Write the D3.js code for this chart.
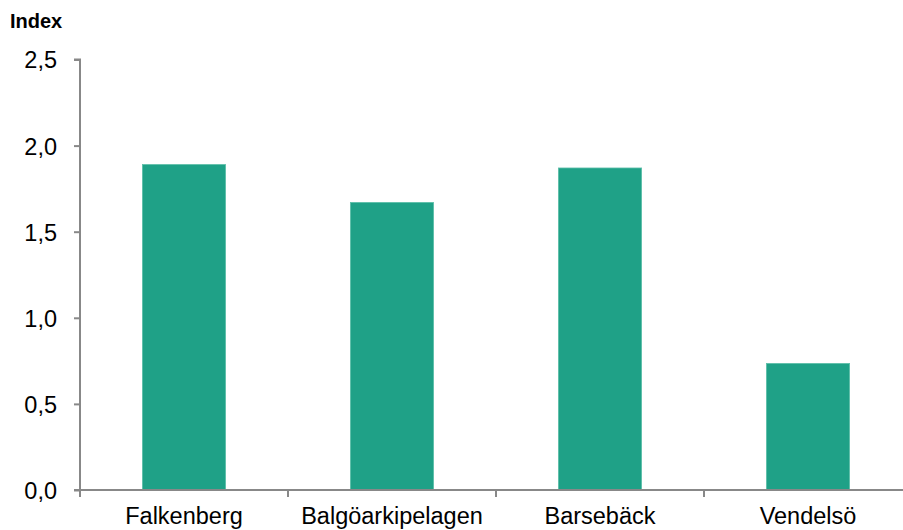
<!DOCTYPE html>
<html>
<head>
<meta charset="utf-8">
<script src="https://cdn.jsdelivr.net/npm/d3@7"></script>
<style>
  html, body { margin: 0; padding: 0; background: #fff; }
  svg { display: block; font-family: "Liberation Sans", Arial, sans-serif; }
</style>
</head>
<body>
<svg id="chart" width="903" height="530"></svg>
<script>
const categories = ["Falkenberg", "Balgöarkipelagen", "Barsebäck", "Vendelsö"];
const values = [1.89, 1.67, 1.87, 0.735];
const yTicks = [0, 0.5, 1.0, 1.5, 2.0, 2.5];
const yTickLabels = ["0,0", "0,5", "1,0", "1,5", "2,0", "2,5"];

const svg = d3.select("#chart");
const plotLeft = 80, plotRight = 912, plotTop = 59.5, plotBottom = 490;
const axisColor = "#888888";
const labelSize = 23.5;

const x = d3.scaleBand().domain(categories).range([plotLeft, plotRight]).paddingInner(0.6).paddingOuter(0.3);
const xOuter = d3.scaleBand().domain(categories).range([plotLeft, plotRight]);
const y = d3.scaleLinear().domain([0, 2.5]).range([plotBottom, plotTop]);

// bars
svg.append("g").selectAll("rect").data(values).join("rect")
  .attr("x", (d, i) => x(categories[i]))
  .attr("y", d => y(d))
  .attr("width", x.bandwidth())
  .attr("height", d => y(0) - y(d))
  .attr("fill", "#1fa187")
  .attr("stroke", "#5cbfa9")
  .attr("stroke-width", 0.8);

// y axis
const yAxis = d3.axisLeft(y).tickValues(yTicks)
  .tickFormat((d, i) => yTickLabels[i]).tickSize(6).tickPadding(17);
const gy = svg.append("g").attr("transform", `translate(${plotLeft},0)`).call(yAxis);
gy.select(".domain").attr("stroke", axisColor).attr("stroke-width", 2)
  .attr("d", `M-6,${plotTop}H0V${plotBottom}`);
gy.selectAll(".tick line").attr("stroke", axisColor).attr("stroke-width", 2);
gy.selectAll(".tick text").attr("font-size", labelSize).attr("fill", "#000")
  .attr("dy", "0.36em")
  .attr("font-family", "Liberation Sans, Arial, sans-serif");

// x axis: tick marks at category boundaries
const gx = svg.append("g").attr("transform", `translate(0,${plotBottom})`);
gx.append("line").attr("x1", plotLeft - 6).attr("x2", 903).attr("y1", 0).attr("y2", 0)
  .attr("stroke", axisColor).attr("stroke-width", 2);
const boundaries = categories.map(c => xOuter(c)).concat([plotRight]);
gx.selectAll("line.sep").data(boundaries).join("line").attr("class", "sep")
  .attr("x1", d => d).attr("x2", d => d).attr("y1", 0).attr("y2", 7)
  .attr("stroke", axisColor).attr("stroke-width", 2);
gx.selectAll("text").data(categories).join("text")
  .attr("x", d => xOuter(d) + xOuter.bandwidth() / 2)
  .attr("y", 34)
  .attr("text-anchor", "middle")
  .attr("font-size", labelSize)
  .attr("fill", "#000")
  .text(d => d);

// axis title
svg.append("text").attr("x", 10).attr("y", 28)
  .attr("font-size", 20).attr("font-weight", "bold").attr("fill", "#000")
  .text("Index");
</script>
</body>
</html>
